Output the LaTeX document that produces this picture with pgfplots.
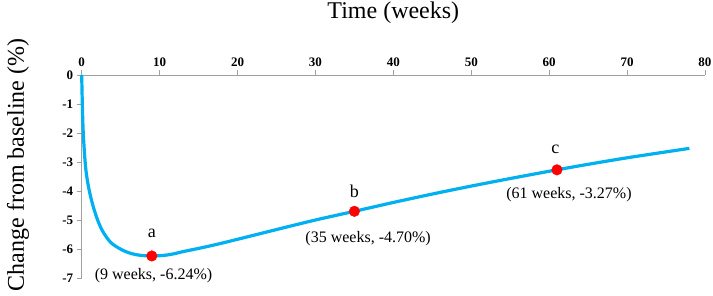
\documentclass[border=0pt]{standalone}
\usepackage{fontspec}
\setmainfont{Liberation Serif}
\usepackage{pgfplots}
\pgfplotsset{compat=1.18}
\definecolor{curve}{RGB}{0,176,240}
\definecolor{axgray}{RGB}{160,160,160}
\begin{document}
\begin{tikzpicture}
\begin{axis}[
  scale only axis, width=623.3pt, height=203pt,
  xmin=0, xmax=80, ymin=-7, ymax=0,
  axis x line=top, axis y line=left,
  axis line style={draw=axgray, line width=0.9pt, -},
  x axis line style={-}, y axis line style={-},
  tick style={draw=axgray, line width=0.9pt},
  tick align=outside, major tick length=5pt,
  xtick={0,10,...,80}, xticklabels={0,10,20,30,40,50,60,70,80},
  ytick={-7,-6,...,0}, yticklabels={-7,-6,-5,-4,-3,-2,-1,0},
  ticklabel style={font=\fontsize{13}{15}\selectfont\bfseries},
  clip=false,
  title={Time (weeks)},
  title style={font=\fontsize{24}{28}\selectfont, at={(axis description cs:0.5,1)}, anchor=base, yshift=50.7pt},
  ylabel={Change from baseline (\%)},
  ylabel style={font=\fontsize{24}{28}\selectfont, at={(axis description cs:-0.102,0.557)}, anchor=center},
]
\addplot[curve, line width=3.2pt, smooth, tension=0.5] coordinates {
(0,0) (0.08,-1) (0.2,-2) (0.44,-3) (0.65,-3.5) (0.98,-4)
(1.44,-4.5) (2.04,-5) (2.72,-5.4) (3.75,-5.78) (5.1,-6.02) (6.4,-6.16)
(7.6,-6.22) (9,-6.24) (10,-6.232) (11,-6.205) (12,-6.155) (13,-6.09)
(15,-5.98) (17.5,-5.83) (20,-5.665) (25,-5.33) (30,-5.0) (35,-4.70)
(40,-4.395) (45,-4.105) (50,-3.83) (55,-3.57) (61,-3.27) (65,-3.08)
(70,-2.855) (78,-2.53)
};
\addplot[only marks, mark=*, mark size=5.3pt, color=red] coordinates {
(9,-6.24) (35,-4.70) (61,-3.27)
};
\node[font=\fontsize{18}{20}\selectfont, yshift=22.7pt] at (axis cs:9,-6.24) {a};
\node[font=\fontsize{18}{20}\selectfont, yshift=20pt] at (axis cs:35,-4.70) {b};
\node[font=\fontsize{18}{20}\selectfont, yshift=20.7pt, xshift=-1.5pt] at (axis cs:61,-3.27) {c};
\node[font=\fontsize{16}{18}\selectfont, yshift=-20pt, xshift=1.7pt] at (axis cs:9,-6.24) {(9 weeks, -6.24\%)};
\node[font=\fontsize{16}{18}\selectfont, yshift=-27pt, xshift=13.7pt] at (axis cs:35,-4.70) {(35 weeks, -4.70\%)};
\node[font=\fontsize{16}{18}\selectfont, yshift=-25pt, xshift=12pt] at (axis cs:61,-3.27) {(61 weeks, -3.27\%)};
\end{axis}
\pgfresetboundingbox
\path (-81.7pt,-17pt) rectangle (631.3pt,278pt);
\end{tikzpicture}
\end{document}
